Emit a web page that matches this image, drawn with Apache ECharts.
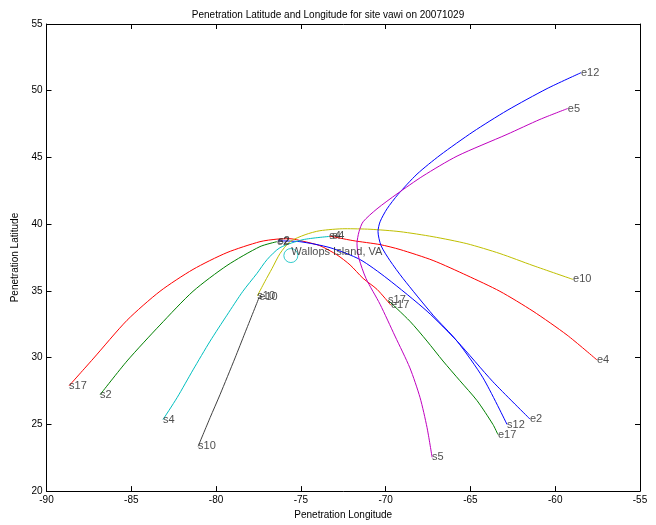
<!DOCTYPE html>
<html>
<head>
<meta charset="utf-8">
<script src="https://cdn.jsdelivr.net/npm/echarts@6/dist/echarts.min.js"></script>
<style>
html,body{margin:0;padding:0;background:#fff;}
#chart{width:656px;height:525px;}
</style>
</head>
<body>
<div id="chart"></div>
<script>
// ---- data (lon, lat) ----
const titleText = 'Penetration Latitude and Longitude for site vawi on 20071029';
const xName = 'Penetration Longitude';
const yName = 'Penetration Latitude';
const xRange = [-90, -55];
const yRange = [20, 55];
const tickStep = 5;

const siteName = 'Wallops Island, VA';
const sitePos = [-75.59, 37.65];

// PRN 17: red then green
const prn17a = [[-88.67,27.89],[-87.26,29.90],[-85.25,32.80],[-83.31,34.97],[-81.36,36.61],[-79.36,37.87],[-77.41,38.69],[-76.41,38.88],[-75.64,38.91],[-74.87,38.72],[-73.88,38.39],[-72.87,37.70],[-72.10,36.95],[-71.33,35.94],[-70.51,35.12],[-69.69,33.93]];
const prn17b = [[-69.86,34.30],[-68.57,32.73],[-67.56,31.24],[-66.62,29.75],[-65.62,28.27],[-64.61,26.78],[-63.67,24.99],[-63.38,24.24]];
// PRN 2: green then blue
const prn2a = [[-86.84,27.22],[-85.25,29.75],[-83.31,32.44],[-81.36,34.97],[-79.36,36.90],[-77.41,38.32],[-76.41,38.69]];
const prn2b = [[-76.34,38.75],[-75.06,38.69],[-73.28,38.24],[-71.51,37.35],[-69.92,35.94],[-67.56,33.48],[-65.79,31.24],[-63.67,28.19],[-61.49,25.40]];
// PRN 4: cyan then red
const prn4a = [[-83.13,25.36],[-82.30,27.00],[-81.36,29.08],[-80.35,31.24],[-79.36,33.18],[-78.42,34.97],[-77.59,36.31],[-76.99,37.35],[-76.23,38.24],[-74.87,38.84],[-73.16,39.10]];
const prn4b = [[-73.33,39.12],[-71.93,38.77],[-70.33,38.47],[-69.15,38.10],[-67.20,37.28],[-65.21,36.16],[-63.26,34.97],[-61.31,33.48],[-59.30,31.69],[-57.54,29.83]];
// PRN 10: black then yellow
const prn10a = [[-81.06,23.35],[-80.35,25.51],[-79.77,27.22],[-78.88,29.98],[-78.30,31.84],[-77.45,34.55]];
const prn10b = [[-77.57,34.62],[-77.12,35.71],[-76.70,36.68],[-76.23,37.80],[-75.64,38.69],[-74.75,39.21],[-73.88,39.51],[-72.40,39.66],[-70.92,39.62],[-69.15,39.44],[-67.20,39.06],[-65.21,38.54],[-63.26,37.80],[-61.31,36.90],[-58.95,35.86]];
// PRN 12: blue
const prn12 = [[-62.84,24.99],[-64.26,28.49],[-65.79,31.24],[-67.20,33.18],[-68.98,35.94],[-69.75,37.28],[-70.27,38.39],[-70.45,39.44],[-70.33,40.18],[-69.92,41.15],[-69.27,42.23],[-68.15,43.75],[-66.79,45.17],[-64.85,46.92],[-62.84,48.52],[-60.48,50.16],[-58.48,51.35]];
// PRN 5: magenta
const prn5 = [[-67.26,22.53],[-67.56,24.77],[-67.97,27.00],[-68.57,29.23],[-69.45,31.62],[-70.33,34.00],[-71.16,35.94],[-71.57,37.42],[-71.69,38.54],[-71.57,39.44],[-71.33,40.18],[-70.51,41.15],[-69.33,42.27],[-67.80,43.61],[-65.79,45.10],[-62.84,46.73],[-60.90,47.85],[-59.26,48.67]];

// segments: [points, colour, start label, end label]
const segments = [
  [prn17a, '#ff0000', 's17', 'e17'],
  [prn17b, '#008000', 's17', 'e17'],
  [prn2a,  '#008000', 's2',  'e2'],
  [prn2b,  '#0000ff', 's2',  'e2'],
  [prn4a,  '#00bfbf', 's4',  'e4'],
  [prn4b,  '#ff0000', 's4',  'e4'],
  [prn10a, '#404040', 's10', 'e10'],
  [prn10b, '#bfbf00', 's10', 'e10'],
  [prn12,  '#0000ff', 's12', 'e12'],
  [prn5,   '#bf00bf', 's5',  'e5']
];

const FONT = 'Liberation Sans, Arial, sans-serif';
const series = [];
segments.forEach(function (s) {
  series.push({
    type: 'line', data: s[0], showSymbol: false, smooth: 0.25,
    lineStyle: {color: s[1], width: 1}, z: 2, silent: true
  });
});
const labelData = [];
segments.forEach(function (s) {
  labelData.push({value: s[0][0], name: s[2]});
  labelData.push({value: s[0][s[0].length - 1], name: s[3]});
});
series.push({
  type: 'scatter', data: labelData, symbolSize: 0, z: 5, silent: true,
  label: {show: true, position: 'right', distance: 0, formatter: '{b}',
          fontSize: 11, fontFamily: FONT, color: '#222'}
});
series.push({
  type: 'scatter', data: [{value: sitePos, name: siteName}], symbol: 'circle', symbolSize: 14,
  itemStyle: {color: 'rgba(0,0,0,0)', borderColor: '#00bfbf', borderWidth: 1}, z: 4, silent: true,
  label: {show: true, position: 'right', distance: 0, offset: [-7, -4], formatter: '{b}',
          fontSize: 11, fontFamily: FONT, color: '#222'}
});

const chart = echarts.init(document.getElementById('chart'), null, {renderer: 'canvas'});
const axisCommon = {
  interval: tickStep,
  axisLine: {show: true, onZero: false, lineStyle: {color: '#000', width: 1}},
  axisTick: {show: true, inside: true, length: 5, lineStyle: {color: '#000'}},
  splitLine: {show: false}
};
chart.setOption({
  animation: false,
  backgroundColor: '#fff',
  title: {text: titleText, left: 'center', top: 5,
          textStyle: {fontSize: 10, fontWeight: 'normal', color: '#000', fontFamily: FONT}},
  grid: {left: 46.5, right: 16, top: 24, bottom: 30, containLabel: false, show: false},
  xAxis: [
    Object.assign({}, axisCommon, {type: 'value', position: 'bottom', min: xRange[0], max: xRange[1],
      name: xName, nameLocation: 'middle', nameGap: 17,
      nameTextStyle: {fontSize: 10, color: '#000', fontFamily: FONT},
      axisLabel: {fontSize: 10, color: '#000', margin: 4, fontFamily: FONT}}),
    Object.assign({}, axisCommon, {type: 'value', position: 'top', min: xRange[0], max: xRange[1],
      axisLabel: {show: false}})
  ],
  yAxis: [
    Object.assign({}, axisCommon, {type: 'value', position: 'left', min: yRange[0], max: yRange[1],
      name: yName, nameLocation: 'middle', nameGap: 18,
      nameTextStyle: {fontSize: 10, color: '#000', fontFamily: FONT},
      axisLabel: {fontSize: 10, color: '#000', margin: 4, fontFamily: FONT}}),
    Object.assign({}, axisCommon, {type: 'value', position: 'right', min: yRange[0], max: yRange[1],
      axisLabel: {show: false}})
  ],
  series: series
});
</script>
</body>
</html>
